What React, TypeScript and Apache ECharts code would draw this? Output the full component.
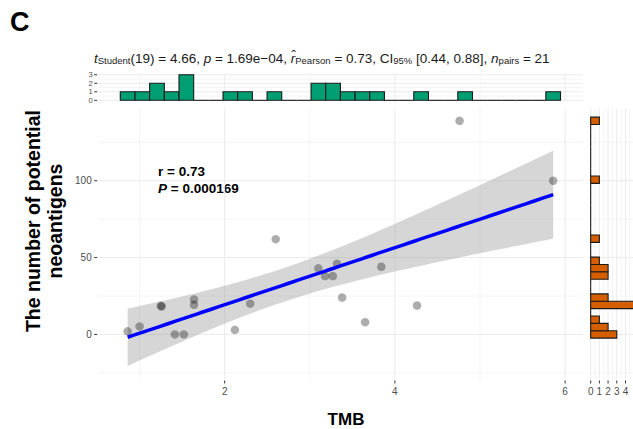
import React, { useEffect, useRef } from "react";
import * as echarts from "echarts";

// ---- data ----
const tmb = [0.86, 1.0, 1.25, 1.26, 1.415, 1.52, 1.64, 1.64, 2.12, 2.3, 2.6, 3.1, 3.18, 3.27, 3.32, 3.38, 3.65, 3.84, 4.26, 4.76, 5.86];
const neo = [2, 5.2, 18.6, 18.2, 0, 0, 22.7, 19.3, 3, 20, 62, 43, 38, 38, 46, 24, 8, 44, 18.8, 139, 100];

const topBinStart = 0.86;
const topBinWidth = 0.1724;
const topCounts = [1, 1, 2, 1, 3, 0, 0, 1, 1, 0, 1, 0, 0, 2, 2, 1, 1, 1, 0, 0, 1, 0, 0, 1, 0, 0, 0, 0, 0, 1];

const rightBinStart = 0;
const rightBinWidth = 4.793;
const rightCounts = [3, 2, 1, 0, 5, 2, 0, 0, 2, 2, 1, 0, 0, 1, 0, 0, 0, 0, 0, 0, 0, 1, 0, 0, 0, 0, 0, 0, 0, 1];

const xTicks = [2, 4, 6];
const xMinor = [1, 3, 5];
const yTicks = [0, 50, 100];
const yMinor = [-25, 25, 75, 125];
const topTicks = [0, 1, 2, 3];
const topMinor = [0.5, 1.5, 2.5];
const rightTicks = [0, 1, 2, 3, 4, 5];
const rightMinor = [0.5, 1.5, 2.5, 3.5, 4.5];

// axis ranges
const X0 = [0.52, 6.21];
const Y0 = [-29, 147];
const YT = [-0.15, 3.15];
const XR = [-0.25, 4.865];

const FONT = "Liberation Sans, Arial, Helvetica, sans-serif";
const MAJOR = "#ebebeb";
const MINOR = "#f4f4f4";
const TICK = "#333333";

// linear fit with 95% CI (t(19) = 2.093)
function fit() {
  const n = tmb.length;
  const mx = tmb.reduce((a, b) => a + b, 0) / n;
  const my = neo.reduce((a, b) => a + b, 0) / n;
  let sxx = 0, sxy = 0;
  for (let i = 0; i < n; i++) {
    sxx += (tmb[i] - mx) ** 2;
    sxy += (tmb[i] - mx) * (neo[i] - my);
  }
  const b = sxy / sxx;
  const a = my - b * mx;
  let sse = 0;
  for (let i = 0; i < n; i++) sse += (neo[i] - a - b * tmb[i]) ** 2;
  const s = Math.sqrt(sse / (n - 2));
  const t = 2.093;
  const xmin = Math.min(...tmb), xmax = Math.max(...tmb);
  const pts: { x: number; y: number; lo: number; hi: number }[] = [];
  const steps = 80;
  for (let k = 0; k <= steps; k++) {
    const x = xmin + ((xmax - xmin) * k) / steps;
    const y = a + b * x;
    const se = s * Math.sqrt(1 / n + (x - mx) ** 2 / sxx);
    pts.push({ x, y, lo: y - t * se, hi: y + t * se });
  }
  return pts;
}

// grid lines drawn with the axes' own scales
function gridSeries(xi: number, xr: number[], yr: number[], xs: number[], ys: number[], color: string) {
  const data: any[] = [...xs.map((v) => [v, 0]), ...ys.map((v) => [v, 1])];
  return {
    type: "custom",
    xAxisIndex: xi,
    yAxisIndex: xi,
    z: 0,
    silent: true,
    clip: false,
    encode: { x: -1, y: -1 },
    data,
    renderItem: (_p: any, api: any) => {
      const v = api.value(0);
      const dir = api.value(1);
      let a, b;
      if (dir === 0) {
        a = api.coord([v, yr[0]]);
        b = api.coord([v, yr[1]]);
      } else {
        a = api.coord([xr[0], v]);
        b = api.coord([xr[1], v]);
      }
      return {
        type: "line",
        shape: { x1: a[0], y1: a[1], x2: b[0], y2: b[1] },
        style: { stroke: color, lineWidth: 1 },
      };
    },
  };
}

// small axis ticks: dir 0 = bottom ticks at x values, dir 1 = left ticks at y values
function tickSeries(xi: number, vals: number[], dir: number, edge: number) {
  return {
    type: "custom",
    xAxisIndex: xi,
    yAxisIndex: xi,
    z: 1,
    silent: true,
    clip: false,
    encode: { x: -1, y: -1 },
    data: vals.map((v) => [v]),
    renderItem: (_p: any, api: any) => {
      const v = api.value(0);
      if (dir === 0) {
        const p = api.coord([v, edge]);
        return { type: "line", shape: { x1: p[0], y1: p[1] + 1.5, x2: p[0], y2: p[1] + 4.5 }, style: { stroke: TICK, lineWidth: 1 } };
      }
      const p = api.coord([edge, v]);
      return { type: "line", shape: { x1: p[0] - 4.5, y1: p[1], x2: p[0] - 1.5, y2: p[1] }, style: { stroke: TICK, lineWidth: 1 } };
    },
  };
}

// left tick labels placed through the axis scale (kept even when tightly packed)
function leftLabelSeries(xi: number, vals: number[], edge: number, gap: number, size: number) {
  return {
    type: "custom",
    xAxisIndex: xi,
    yAxisIndex: xi,
    z: 1,
    silent: true,
    clip: false,
    encode: { x: -1, y: -1 },
    data: vals.map((v) => [v]),
    renderItem: (_p: any, api: any) => {
      const v = api.value(0);
      const p = api.coord([edge, v]);
      return {
        type: "text",
        x: p[0] - gap,
        y: p[1],
        style: { text: String(v), align: "right", verticalAlign: "middle", fill: "#4d4d4d", font: `${size}px ${FONT}`, lineHeight: size },
      };
    },
  };
}

export default function App() {
  const ref = useRef<HTMLDivElement>(null);
  useEffect(() => {
    const chart = echarts.init(ref.current!, null, { renderer: "svg" });
    const pts = fit();
    const labelStyle = { color: "#4d4d4d", fontSize: 10, fontFamily: FONT, showMinLabel: true, showMaxLabel: true, hideOverlap: false };
    const noAxis = { show: false, onZero: false };

    const option: any = {
      animation: false,
      backgroundColor: "#ffffff",
      grid: [
        { left: 98.7, top: 108.5, width: 484.3, height: 270.5 },
        { left: 98.7, top: 73.5, width: 484.3, height: 28.1 },
        { left: 588.5, top: 108.5, width: 44.5, height: 270.5 },
      ],
      xAxis: [
        {
          gridIndex: 0, type: "value", min: X0[0], max: X0[1],
          axisLine: noAxis, axisTick: { show: false },
          axisLabel: { ...labelStyle, margin: 7, customValues: xTicks },
          splitLine: { show: false },
        },
        {
          gridIndex: 1, type: "value", min: X0[0], max: X0[1],
          axisLine: noAxis, axisTick: { show: false }, axisLabel: { show: false }, splitLine: { show: false },
        },
        {
          gridIndex: 2, type: "value", min: XR[0], max: XR[1],
          axisLine: noAxis, axisTick: { show: false },
          axisLabel: { ...labelStyle, margin: 7, customValues: rightTicks.filter((v) => v <= XR[1]) },
          splitLine: { show: false },
        },
      ],
      yAxis: [
        {
          gridIndex: 0, type: "value", min: Y0[0], max: Y0[1],
          axisLine: noAxis, axisTick: { show: false },
          axisLabel: { ...labelStyle, margin: 7, customValues: yTicks },
          splitLine: { show: false },
        },
        {
          gridIndex: 1, type: "value", min: YT[0], max: YT[1],
          axisLine: noAxis, axisTick: { show: false }, axisLabel: { show: false },
          splitLine: { show: false },
        },
        {
          gridIndex: 2, type: "value", min: Y0[0], max: Y0[1],
          axisLine: noAxis, axisTick: { show: false }, axisLabel: { show: false }, splitLine: { show: false },
        },
      ],
      series: [
        gridSeries(0, X0, Y0, xMinor, yMinor, MINOR),
        gridSeries(0, X0, Y0, xTicks, yTicks, MAJOR),
        gridSeries(1, X0, YT, xMinor, topMinor, MINOR),
        gridSeries(1, X0, YT, xTicks, topTicks, MAJOR),
        gridSeries(2, [XR[0], 5.25], Y0, rightMinor, yMinor, MINOR),
        gridSeries(2, [XR[0], 5.25], Y0, rightTicks, yTicks, MAJOR),
        tickSeries(0, xTicks, 0, Y0[0]),
        tickSeries(0, yTicks, 1, X0[0]),
        tickSeries(1, topTicks, 1, X0[0]),
        tickSeries(2, rightTicks, 0, Y0[0]),
        leftLabelSeries(1, topTicks, X0[0], 6, 7.6),
        {
          type: "custom",
          xAxisIndex: 0,
          yAxisIndex: 0,
          z: 2,
          silent: true,
          data: [[pts[0].x, pts[0].y]],
          renderItem: (_p: any, api: any) => {
            const upper = pts.map((q) => api.coord([q.x, q.hi]));
            const lower = pts.slice().reverse().map((q) => api.coord([q.x, q.lo]));
            return {
              type: "polygon",
              shape: { points: upper.concat(lower) },
              style: { fill: "rgba(153,153,153,0.4)", stroke: "none" },
            };
          },
        },
        {
          type: "scatter",
          xAxisIndex: 0,
          yAxisIndex: 0,
          z: 3,
          symbolSize: 8.5,
          itemStyle: { color: "rgba(0,0,0,0.4)" },
          data: tmb.map((x, i) => [x, neo[i]]),
        },
        {
          type: "line",
          xAxisIndex: 0,
          yAxisIndex: 0,
          z: 4,
          symbol: "none",
          lineStyle: { color: "#0000ff", width: 3.5 },
          data: pts.map((q) => [q.x, q.y]),
        },
        {
          type: "custom",
          xAxisIndex: 1,
          yAxisIndex: 1,
          z: 3,
          data: topCounts.map((n, i) => [topBinStart + i * topBinWidth, n]),
          renderItem: (_p: any, api: any) => {
            const c = api.value(0);
            const n = api.value(1);
            const p0 = api.coord([c - topBinWidth / 2, n]);
            const p1 = api.coord([c + topBinWidth / 2, 0]);
            if (n === 0) {
              return {
                type: "line",
                shape: { x1: p0[0], y1: p1[1], x2: p1[0], y2: p1[1] },
                style: { stroke: "#1a1a1a", lineWidth: 1.1 },
              };
            }
            return {
              type: "rect",
              shape: { x: p0[0], y: p0[1], width: p1[0] - p0[0], height: p1[1] - p0[1] },
              style: { fill: "#009E73", stroke: "#1a1a1a", lineWidth: 1.1 },
            };
          },
        },
        {
          type: "custom",
          xAxisIndex: 2,
          yAxisIndex: 2,
          z: 3,
          clip: false,
          encode: { x: 0, y: 1 },
          data: rightCounts.map((n, i) => [n, rightBinStart + i * rightBinWidth]),
          renderItem: (_p: any, api: any) => {
            const n = api.value(0);
            const c = api.value(1);
            const p0 = api.coord([0, c + rightBinWidth / 2]);
            const p1 = api.coord([n, c - rightBinWidth / 2]);
            if (n === 0) {
              return {
                type: "line",
                shape: { x1: p0[0], y1: p0[1], x2: p0[0], y2: p1[1] },
                style: { stroke: "#1a1a1a", lineWidth: 1.1 },
              };
            }
            return {
              type: "rect",
              shape: { x: p0[0], y: p0[1], width: p1[0] - p0[0], height: p1[1] - p0[1] },
              style: { fill: "#D55E00", stroke: "#1a1a1a", lineWidth: 1.1 },
            };
          },
        },
      ],
      graphic: [
        {
          type: "text",
          x: 10,
          y: 22,
          style: { text: "C", font: `bold 27px ${FONT}`, fill: "#000", verticalAlign: "middle", align: "left" },
        },
        {
          type: "text",
          x: 94,
          y: 57,
          style: {
            text:
              "{it|t}{sub|Student}{n|(19) = 4.66, }{it|p}{n| = 1.69e\u221204, }{it|r\u0302}{sub|Pearson}{n| = 0.73, CI}{sub|95%}{n| [0.44, 0.88], }{it|n}{sub|pairs}{n| = 21}",
            verticalAlign: "middle",
            align: "left",
            fill: "#1a1a1a",
            rich: {
              n: { fontSize: 13.5, fontFamily: FONT, lineHeight: 17, verticalAlign: "bottom", color: "#1a1a1a" },
              it: { fontSize: 13.5, fontFamily: FONT, fontStyle: "italic", lineHeight: 17, verticalAlign: "bottom", color: "#1a1a1a" },
              sub: { fontSize: 9.5, fontFamily: FONT, lineHeight: 7, verticalAlign: "bottom", color: "#1a1a1a" },
            },
          },
        },
        {
          type: "text",
          x: 158,
          y: 180.3,
          style: {
            text: "{b|r = 0.73}\n{i|P}{b| = 0.000169}",
            verticalAlign: "middle",
            align: "left",
            rich: {
              b: { fontSize: 13.5, fontWeight: "bold", fontFamily: FONT, lineHeight: 17.3, color: "#000" },
              i: { fontSize: 13.5, fontWeight: "bold", fontStyle: "italic", fontFamily: FONT, lineHeight: 17.3, color: "#000" },
            },
          },
        },
        {
          type: "text",
          x: 346,
          y: 419,
          style: { text: "TMB", font: `bold 17px ${FONT}`, fill: "#000", align: "center", verticalAlign: "middle" },
        },
        {
          type: "text",
          x: 44,
          y: 221,
          rotation: Math.PI / 2,
          style: {
            text: "The number of potential\nneoantigens",
            font: `bold 19.5px ${FONT}`,
            lineHeight: 22,
            fill: "#000",
            align: "center",
            verticalAlign: "middle",
          },
        },
      ],
    };
    chart.setOption(option);
    return () => chart.dispose();
  }, []);
  return <div ref={ref} style={{ position: "fixed", left: 0, top: 0, width: 633, height: 429 }} />;
}
